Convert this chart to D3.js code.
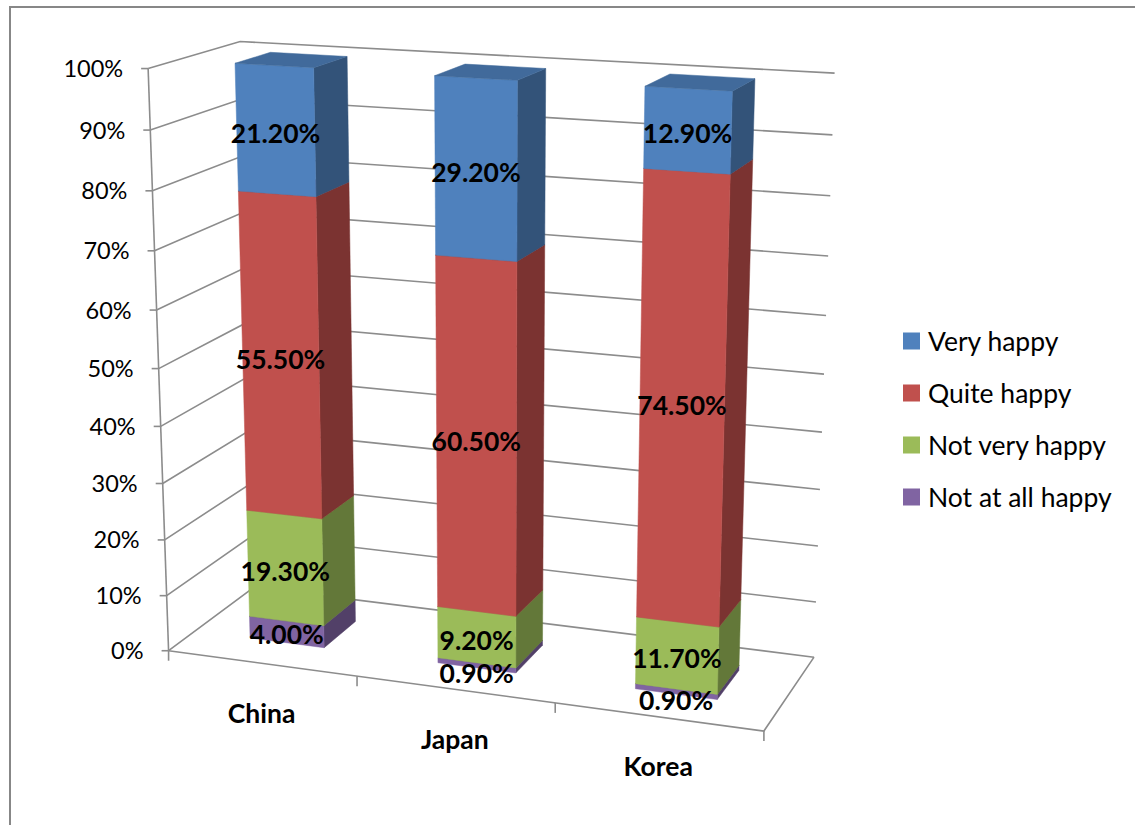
<!DOCTYPE html>
<html><head><meta charset="utf-8">
<script src="https://cdn.jsdelivr.net/npm/d3@7"></script>
<style>body{margin:0;background:#fff}svg{display:block}</style>
</head><body>
<svg id="chart" width="1135" height="825"></svg>
<script>
// ---------------- DATA ----------------
const categories = ["China", "Japan", "Korea"];
const seriesNames = ["Not at all happy", "Not very happy", "Quite happy", "Very happy"];
const notAtAllHappy = [4.0, 0.9, 0.9];
const notVeryHappy = [19.3, 9.2, 11.7];
const quiteHappy = [55.5, 60.5, 74.5];
const veryHappy = [21.2, 29.2, 12.9];
const yTickValues = [0, 10, 20, 30, 40, 50, 60, 70, 80, 90, 100];
const legendOrder = ["Very happy", "Quite happy", "Not very happy", "Not at all happy"];
const seriesColors = ["#8064A2", "#9BBB59", "#C0504D", "#4F81BD"];

// ---------------- PROJECTION (3D box -> screen), calibrated on the plot box ----------------
const calib = [
  {w:[0,0,0], s:[169,651]}, {w:[0,0.5,0], s:[158.5,367]}, {w:[0,1,0], s:[148,69]},
  {w:[0,1,1], s:[240,42]}, {w:[0,0,1], s:[254,587]},
  {w:[1,0,1], s:[814,657]}, {w:[1,1,1], s:[835,73]},
  {w:[1,0,0], s:[763,731]}, {w:[1/3,0,0], s:[357,677]}, {w:[2/3,0,0], s:[556,703]}
];
function solve(A, b) {
  const n = b.length, M = A.map((r, i) => r.concat([b[i]]));
  for (let c = 0; c < n; c++) {
    let p = c;
    for (let r = c + 1; r < n; r++) if (Math.abs(M[r][c]) > Math.abs(M[p][c])) p = r;
    [M[c], M[p]] = [M[p], M[c]];
    for (let r = c + 1; r < n; r++) {
      const f = M[r][c] / M[c][c];
      for (let k = c; k <= n; k++) M[r][k] -= f * M[c][k];
    }
  }
  const x = new Array(n).fill(0);
  for (let r = n - 1; r >= 0; r--) {
    let s = M[r][n];
    for (let k = r + 1; k < n; k++) s -= M[r][k] * x[k];
    x[r] = s / M[r][r];
  }
  return x;
}
function fitProjection(pts) {
  const S = 1000, rows = [], rhs = [];
  pts.forEach(p => {
    const [X, Y, Z] = p.w, u = p.s[0] / S, v = p.s[1] / S;
    rows.push([X, Y, Z, 1, 0, 0, 0, 0, -u * X, -u * Y, -u * Z]); rhs.push(u);
    rows.push([0, 0, 0, 0, X, Y, Z, 1, -v * X, -v * Y, -v * Z]); rhs.push(v);
  });
  const N = 11, ATA = [], ATb = [];
  for (let i = 0; i < N; i++) {
    ATA.push([]); let sb = 0;
    for (let j = 0; j < N; j++) { let s = 0; rows.forEach(r => s += r[i] * r[j]); ATA[i].push(s); }
    rows.forEach((r, k) => sb += r[i] * rhs[k]); ATb.push(sb);
  }
  const p = solve(ATA, ATb);
  return ([X, Y, Z]) => {
    const w = p[8] * X + p[9] * Y + p[10] * Z + 1;
    return [S * (p[0] * X + p[1] * Y + p[2] * Z + p[3]) / w, S * (p[4] * X + p[5] * Y + p[6] * Z + p[7]) / w];
  };
}
const proj = fitProjection(calib);

// ---------------- SCALES ----------------
const x = d3.scaleBand().domain(categories).range([0, 1]).paddingInner(0.6).paddingOuter(0.3);
const y = d3.scaleLinear().domain([0, 100]).range([0, 1]);
const zFront = 0.3, zBack = 0.7;
const color = d3.scaleOrdinal().domain(seriesNames).range(seriesColors);

const table = categories.map((c, i) => ({
  cat: c,
  "Not at all happy": notAtAllHappy[i], "Not very happy": notVeryHappy[i],
  "Quite happy": quiteHappy[i], "Very happy": veryHappy[i]
}));
const stacked = d3.stack().keys(seriesNames)(table);

const FONT = "Lato, 'Open Sans', sans-serif";
const svg = d3.select("#chart");
svg.append("rect").attr("width", 1135).attr("height", 825).attr("fill", "#fff");
svg.append("rect").attr("x", 10).attr("y", 7).attr("width", 1140).attr("height", 840)
  .attr("fill", "none").attr("stroke", "#878787").attr("stroke-width", 2);

const line = d3.line();
const gridColor = "#8c8c8c";
const g = svg.append("g");

// walls & gridlines
yTickValues.forEach(t => {
  const Y = y(t);
  g.append("path").attr("d", line([proj([0, Y, 0]), proj([0, Y, 1]), proj([1, Y, 1])]))
    .attr("fill", "none").attr("stroke", gridColor).attr("stroke-width", 1.6);
  const a = proj([0, Y, 0]);
  g.append("line").attr("x1", a[0] - 7).attr("x2", a[0]).attr("y1", a[1]).attr("y2", a[1])
    .attr("stroke", gridColor).attr("stroke-width", 1.6);
  g.append("text").attr("x", a[0] - 25).attr("y", a[1]).attr("dy", "0.36em")
    .attr("text-anchor", "end").attr("font-family", FONT)
    .attr("font-size", 23.5).attr("fill", "#000").text(d3.format(".0%")(t / 100));
});
// vertical axis line
g.append("path").attr("d", line([proj([0, 1, 0]), proj([0, 0, 0])]))
  .attr("fill", "none").attr("stroke", gridColor).attr("stroke-width", 1.6);
// floor front and right edges
g.append("path").attr("d", line([proj([0, 0, 0]), proj([1, 0, 0]), proj([1, 0, 1])]))
  .attr("fill", "none").attr("stroke", gridColor).attr("stroke-width", 1.6);
// category ticks
d3.range(categories.length + 1).forEach(k => {
  const a = proj([k * x.step(), 0, 0]);
  g.append("line").attr("x1", a[0]).attr("x2", a[0]).attr("y1", a[1]).attr("y2", a[1] + 10)
    .attr("stroke", gridColor).attr("stroke-width", 1.6);
});
// category labels
categories.forEach(c => {
  const a = proj([x(c) + x.bandwidth() / 2, 0, 0]);
  g.append("text").attr("x", a[0]).attr("y", a[1] + 50).attr("dy", "0.36em")
    .attr("text-anchor", "middle").attr("font-family", FONT)
    .attr("font-weight", "bold").attr("font-size", 26.5).text(c);
});

// bars
const shade = (c, k) => d3.rgb(c).darker(k).formatHex();
const poly = pts => line(pts.map(proj)) + "Z";
const bars = g.append("g");
categories.forEach((c, i) => {
  const xa = x(c), xb = x(c) + x.bandwidth();
  stacked.forEach(s => {
    const d = s[i], y0 = y(d[0]), y1 = y(d[1]), col = color(s.key);
    const faces = [
      {pts: [[xb, y0, zFront], [xb, y0, zBack], [xb, y1, zBack], [xb, y1, zFront]], fill: shade(col, 1.25)},
      {pts: [[xa, y0, zFront], [xb, y0, zFront], [xb, y1, zFront], [xa, y1, zFront]], fill: col},
      {pts: [[xa, y1, zFront], [xb, y1, zFront], [xb, y1, zBack], [xa, y1, zBack]], fill: shade(col, 0.55)}
    ];
    faces.forEach(f => bars.append("path").attr("d", poly(f.pts))
      .attr("fill", f.fill).attr("stroke", f.fill).attr("stroke-width", 0.5));
  });
});
// data labels
categories.forEach((c, i) => {
  const xc = x(c) + x.bandwidth() / 2;
  stacked.forEach(s => {
    const d = s[i], v = d[1] - d[0];
    let p, off;
    if (v < 2) { p = proj([xc, y(d[0]), zFront]); off = 6; }
    else { p = proj([xc, y((d[0] + d[1]) / 2), zFront]); off = 3; }
    g.append("text").attr("x", p[0]).attr("y", p[1] + off).attr("dy", "0.36em")
      .attr("text-anchor", "middle").attr("font-family", FONT)
      .attr("font-weight", "bold").attr("font-size", 26.5).attr("fill", "#000")
      .text(d3.format(".2f")(v) + "%");
  });
});

// legend
const legend = svg.append("g");
legendOrder.forEach((name, k) => {
  const cy = 341 + k * 52;
  legend.append("rect").attr("x", 903).attr("y", cy - 8.5).attr("width", 17).attr("height", 17)
    .attr("fill", color(name));
  legend.append("text").attr("x", 928).attr("y", cy).attr("dy", "0.36em")
    .attr("font-family", FONT).attr("font-size", 26.5).text(name);
});
</script>
</body></html>
